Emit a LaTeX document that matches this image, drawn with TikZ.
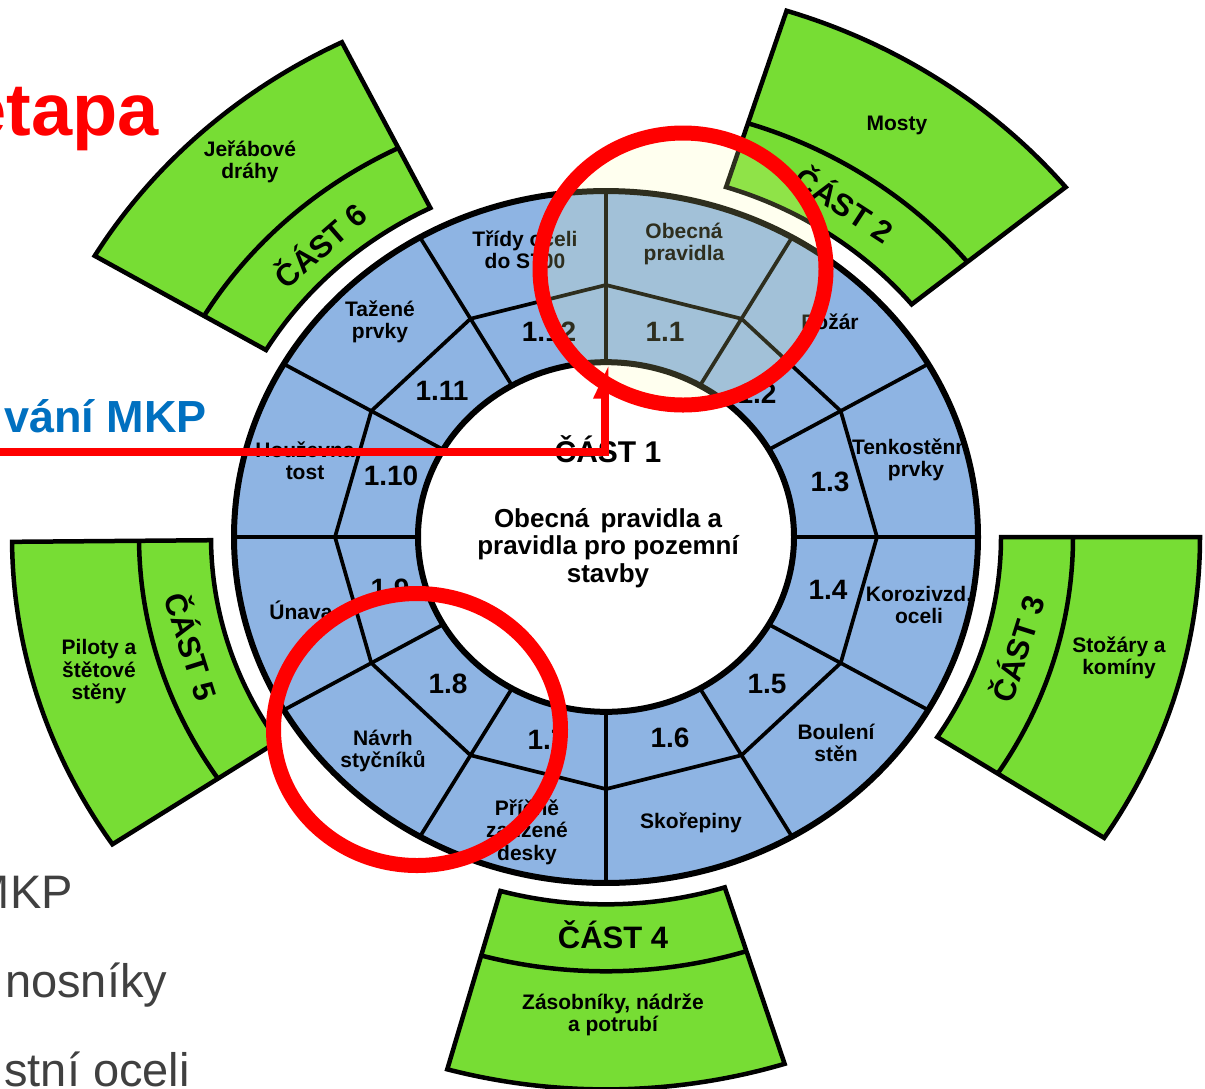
\documentclass[tikz,border=0pt]{standalone}
\usepackage{fontspec}
\setmainfont{Liberation Sans}
\usetikzlibrary{arrows.meta}
\definecolor{ringblue}{RGB}{142,180,227}
\definecolor{partgreen}{RGB}{119,221,52}
\definecolor{hlcream}{RGB}{255,255,167}
\definecolor{mkpblue}{RGB}{0,112,192}
\definecolor{graytext}{RGB}{64,64,64}
\tikzset{
  lbl/.style={font=\fontsize{21}{22.5}\selectfont\bfseries, align=center, inner sep=0pt},
  num/.style={font=\fontsize{28}{30}\selectfont\bfseries, inner sep=0pt},
  cast/.style={font=\fontsize{31}{33}\selectfont\bfseries, inner sep=0pt},
  centertext/.style={font=\fontsize{26}{27.5}\selectfont\bfseries, align=center, inner sep=0pt},
  ringline/.style={line width=3.7pt, line join=round},
  rimline/.style={line width=6pt},
  sector/.style={fill=partgreen, draw=black, line width=4.5pt, line join=miter},
  divline/.style={line width=4.5pt},
  redmark/.style={draw=red, line width=15pt},
  bgtext/.style={inner sep=0pt},
}
\begin{document}
\begin{tikzpicture}[x=1pt,y=1pt]
\useasboundingbox (0,0) rectangle (1205,-1088);
\fill[white] (0,0) rectangle (1205,-1088);

% background slide texts
\node[bgtext, anchor=base east, text=red, font=\fontsize{74}{80}\selectfont\bfseries] (etapa) at (159,-135) {etapa};
\node[bgtext, anchor=base east, text=mkpblue, font=\fontsize{45}{50}\selectfont\bfseries] (mkp) at (207,-432) {vání MKP};
\node[bgtext, anchor=base east, text=graytext, font=\fontsize{47}{50}\selectfont] (g1) at (73,-908) {MKP};
\node[bgtext, anchor=base west, text=graytext, font=\fontsize{47}{50}\selectfont] (g2) at (5,-997) {nosníky};
\node[bgtext, anchor=base east, text=graytext, font=\fontsize{47}{50}\selectfont] (g3) at (190,-1086) {stní oceli};

% geometry in elliptic coordinates
\begin{scope}[shift={(606,-537)}, yscale=0.93]
  \foreach \a/\b in {39.3/72.3, -33/0, -105.5/-72.5, 180.5/213.8, 116.4/149.4} {
    \draw[sector] (\a:395) arc[start angle=\a, end angle=\b, radius=395]
      -- (\b:594) arc[start angle=\b, end angle=\a, radius=594] -- cycle;
    \draw[divline] (\a:467) arc[start angle=\a, end angle=\b, radius=467];
  }
  \fill[ringblue, even odd rule] (0,0) circle (372) (0,0) circle (188);
  \foreach \k in {0,30,...,330} \draw[ringline] (\k:188) -- (\k:372);
  \draw[ringline] (0:271) -- (30:271) -- (60:271) -- (90:271) -- (120:271) -- (150:271)
    -- (180:271) -- (210:271) -- (240:271) -- (270:271) -- (300:271) -- (330:271) -- cycle;
  \draw[rimline] (0,0) circle (372);
  \draw[rimline] (0,0) circle (188);
\end{scope}

% outer ring labels
\begin{scope}
  \clip (606,-537) ellipse (369 and 343);
  \node[lbl] (obecna) at (684,-244) {Obecná\\pravidla};
  \node[lbl] (tridy) at (525,-250) {Třídy oceli\\do S700};
  \node[lbl] (tazene) at (380,-322) {Tažené\\prvky};
  \node[lbl] (houz) at (305,-461) {Houževna\\tost};
  \node[lbl] (unava) at (301,-610) {Únava};
  \node[lbl] (navrh) at (383,-751) {Návrh\\styčníků};
  \node[lbl] (pricne) at (527,-832) {Příčně\\zatížené\\desky};
  \node[lbl] (skor) at (691,-823) {Skořepiny};
  \node[lbl] (boul) at (836,-743) {Boulení\\stěn};
  \node[lbl] (koroz) at (919,-605) {Korozivzd.\\oceli};
  \node[lbl] (tenko) at (916,-460) {Tenkostěnné\\prvky};
  \node[lbl] (pozar) at (830,-322) {Požár};
\end{scope}

% number labels
\node[num] (n1) at (665,-332) {1.1};
\node[num] (n2) at (757,-394) {1.2};
\node[num] (n3) at (830,-482) {1.3};
\node[num] (n4) at (828,-590) {1.4};
\node[num] (n5) at (767,-684) {1.5};
\node[num] (n6) at (670,-738) {1.6};
\node[num] (n7) at (547,-740) {1.7};
\node[num] (n8) at (448,-684) {1.8};
\node[num] (n9) at (390,-589) {1.9};
\node[num] (n10) at (391,-476) {1.10};
\node[num] (n11) at (442,-391) {1.11};
\node[num] (n12) at (549,-332) {1.12};

% centre
\node[bgtext, font=\fontsize{30}{32}\selectfont\bfseries] (c1) at (608,-449) {ČÁST 1};
\node[centertext] (c1text) at (608,-548) {Obecná\hspace{4pt} pravidla a\\pravidla pro pozemní\\stavby};

% green part labels
\node[lbl] (mosty) at (897,-125) {Mosty};
\node[cast, rotate=-33] (c2) at (845,-203) {ČÁST 2};
\node[lbl] (jer) at (250,-162) {Jeřábové\\dráhy};
\node[cast, rotate=41] (c6) at (319,-244) {ČÁST 6};
\node[lbl] (pil) at (99,-672) {Piloty a\\štětové\\stěny};
\node[cast, rotate=-72.5] (c5) at (193,-646) {ČÁST 5};
\node[cast, rotate=72.5] (c3) at (1016,-648) {ČÁST 3};
\node[lbl] (stoz) at (1119,-658) {Stožáry a\\komíny};
\node[cast] (c4) at (613,-935) {ČÁST 4};
\node[lbl] (zas) at (613,-1015) {Zásobníky, nádrže\\a potrubí};

% highlight and red marks
\fill[hlcream, fill opacity=0.18] (683,-269) ellipse (137 and 130);
\draw[redmark] (683,-269) ellipse (143 and 136);
\draw[redmark] (417,-729.5) ellipse (143.5 and 136);
\coordinate (rstart) at (-5,-451.5);
\coordinate (rcorner) at (605,-451.5);
\coordinate (rtip) at (605,-365);
\draw[red, line width=8pt, line join=miter, -{Triangle[width=22pt,length=26pt,left]}] (rstart) -- (rcorner) -- (rtip);
\end{tikzpicture}
\end{document}
